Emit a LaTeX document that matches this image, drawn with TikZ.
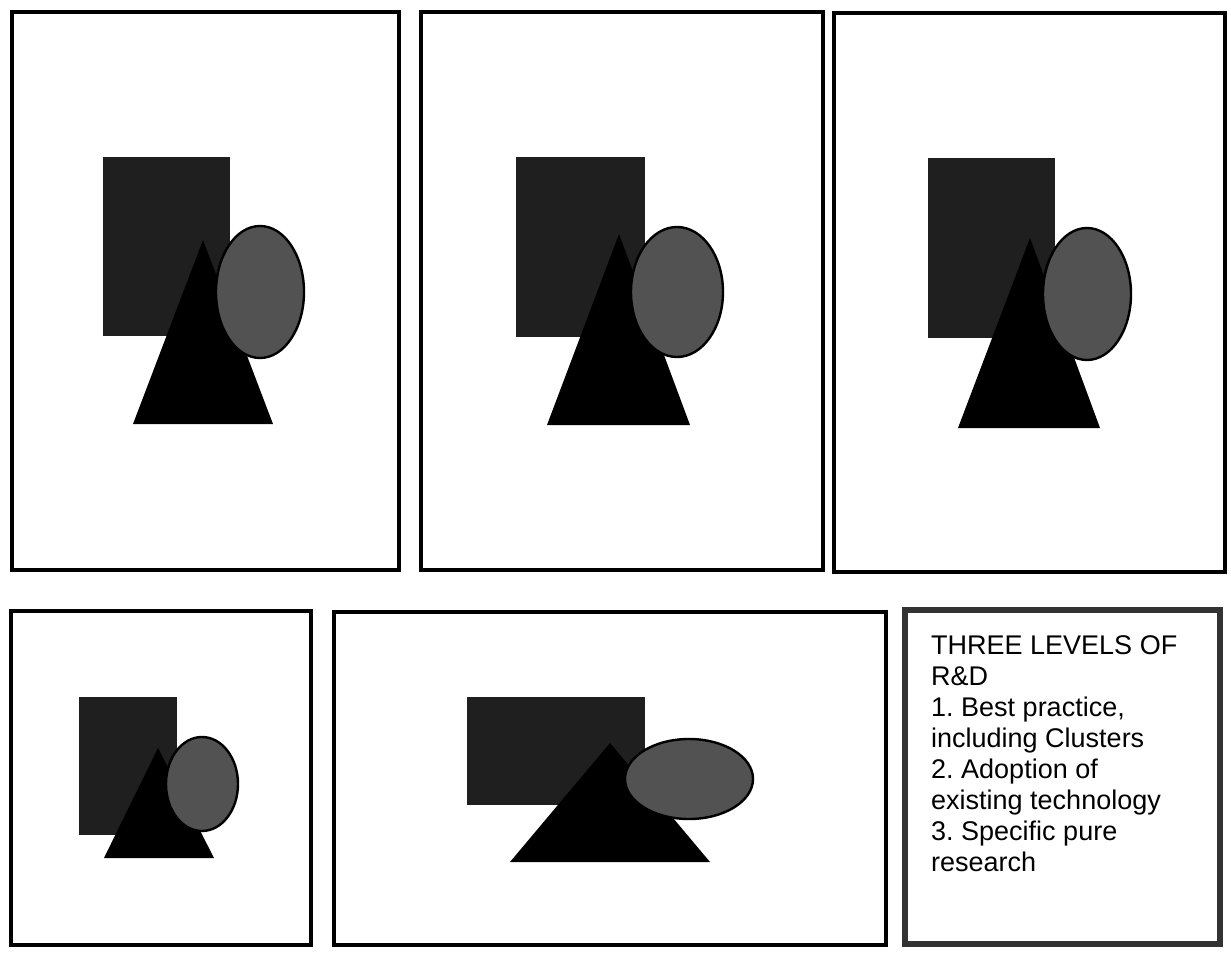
\documentclass[tikz,border=0pt]{standalone}
\usepackage{fontspec}
\setmainfont{Liberation Sans}
\usepackage{tikz}

\begin{document}
\frenchspacing
\begin{tikzpicture}[x=1pt, y=-1pt]
    % Styles
    \tikzstyle{panel} = [draw=black, line width=3.4pt, fill=white]
    \tikzstyle{legendbox} = [draw=black!80, line width=6pt, fill=white]
    \tikzstyle{block} = [fill=black!88]
    \tikzstyle{cone} = [fill=black]
    \tikzstyle{oval} = [draw=black, line width=2.4pt, fill=black!68]

    \useasboundingbox (0,0) rectangle (1231,955);

    % Panels
    \draw [panel] (12,12) rectangle (399,570);
    \draw [panel] (421,12) rectangle (823,570);
    \draw [panel] (834,13) rectangle (1225,572);
    \draw [panel] (11,611) rectangle (311,945);
    \draw [panel] (334,612) rectangle (886,945);
    \draw [legendbox] (905,610) rectangle (1220,944);

    % Shapes, panel 1
    \fill [block] (103,157) rectangle (230,336);
    \fill [cone] (203,240) -- (133,424) -- (273,424) -- cycle;
    \draw [oval] (260,292) ellipse [x radius=44, y radius=66];

    % Shapes, panel 2
    \fill [block] (516,157) rectangle (645,337);
    \fill [cone] (619,234) -- (547,425) -- (690,425) -- cycle;
    \draw [oval] (677,292) ellipse [x radius=46, y radius=65];

    % Shapes, panel 3
    \fill [block] (928,158) rectangle (1055,338);
    \fill [cone] (1030,238) -- (958,428) -- (1100,428) -- cycle;
    \draw [oval] (1087,294) ellipse [x radius=44, y radius=66];

    % Shapes, panel 4
    \fill [block] (79,697) rectangle (177,835);
    \fill [cone] (158,748) -- (104,858) -- (214,858) -- cycle;
    \draw [oval] (202,784) ellipse [x radius=36, y radius=47];

    % Shapes, panel 5
    \fill [block] (467,697) rectangle (645,805);
    \fill [cone] (610,743) -- (510,862) -- (710,862) -- cycle;
    \draw [oval] (689,779) ellipse [x radius=64, y radius=40];

    % Legend
    \node [anchor=north west, align=left, inner sep=0pt,
           font=\fontsize{27}{31}\selectfont] (levels) at (931,635)
        {THREE LEVELS OF\\R\&D\\1. Best practice,\\including Clusters\\2. Adoption of\\existing technology\\3. Specific pure\\research};
\end{tikzpicture}
\end{document}
